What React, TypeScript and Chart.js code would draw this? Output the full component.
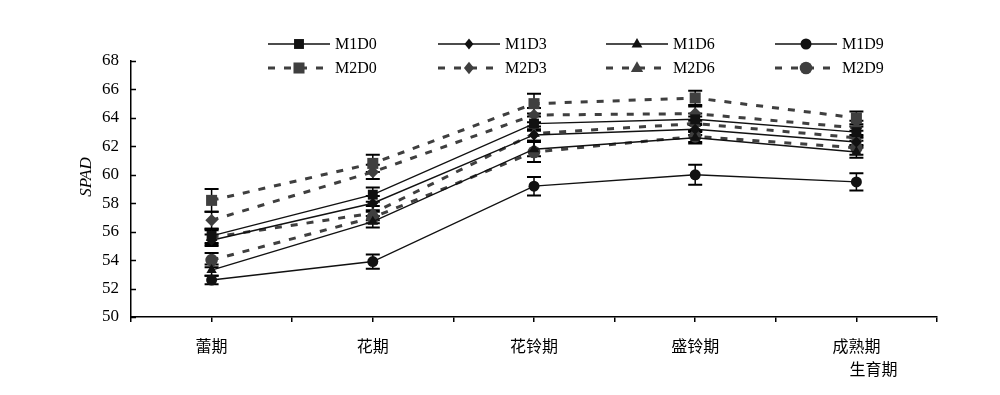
import React, { useEffect, useRef } from 'react';
import { Chart, registerables } from 'chart.js';

Chart.register(...registerables);

// ---------- data ----------
const stages = ['蕾期', '花期', '花铃期', '盛铃期', '成熟期'];
const xAxisTitle = '生育期';
const yAxisTitle = 'SPAD';
const yMin = 50;
const yMax = 68;
const yStep = 2;

const seriesNames = ['M1D0', 'M1D3', 'M1D6', 'M1D9', 'M2D0', 'M2D3', 'M2D6', 'M2D9'];

const M1D0 = [55.7, 58.6, 63.6, 63.9, 63.0];
const M1D3 = [55.4, 58.0, 62.8, 63.2, 62.3];
const M1D6 = [53.3, 56.7, 61.8, 62.6, 61.6];
const M1D9 = [52.6, 53.9, 59.2, 60.0, 59.5];
const M2D0 = [58.2, 60.8, 65.0, 65.4, 64.0];
const M2D3 = [56.8, 60.2, 64.2, 64.3, 63.3];
const M2D6 = [55.6, 57.3, 62.9, 63.6, 62.6];
const M2D9 = [54.0, 57.0, 61.6, 62.7, 61.9];

const M1D0err = [0.5, 0.5, 0.5, 0.4, 0.4];
const M1D3err = [0.4, 0.5, 0.4, 0.4, 0.4];
const M1D6err = [0.4, 0.4, 0.5, 0.4, 0.4];
const M1D9err = [0.3, 0.5, 0.65, 0.7, 0.6];
const M2D0err = [0.8, 0.6, 0.7, 0.5, 0.45];
const M2D3err = [0.6, 0.5, 0.5, 0.5, 0.5];
const M2D6err = [0.5, 0.5, 0.5, 0.5, 0.5];
const M2D9err = [0.5, 0.4, 0.7, 0.4, 0.5];

const seriesValues = [M1D0, M1D3, M1D6, M1D9, M2D0, M2D3, M2D6, M2D9];
const seriesErrors = [M1D0err, M1D3err, M1D6err, M1D9err, M2D0err, M2D3err, M2D6err, M2D9err];

// ---------- styles ----------
const SERIF = '"Liberation Serif", "DejaVu Serif", serif';
const CJK = '"Noto Sans CJK SC", sans-serif';
const markerShapes = ['rect', 'rectRot', 'triangle', 'circle'];
const markerRadius = [7, 5.5, 6, 5.5];
const solidColor = '#111111';
const dashColor = '#3f3f3f';

function styleFor(i: number) {
  const m2 = i >= 4;
  const k = i % 4;
  return {
    color: m2 ? dashColor : solidColor,
    width: m2 ? 3 : 1.4,
    dash: m2 ? [7, 9] : [],
    shape: markerShapes[k],
    radius: markerRadius[k] + (m2 ? 0.8 : 0),
  };
}

function drawMarker(ctx: CanvasRenderingContext2D, shape: string, x: number, y: number, r: number, color: string) {
  ctx.save();
  ctx.fillStyle = color;
  ctx.beginPath();
  if (shape === 'rect') {
    const s = r * Math.SQRT1_2;
    ctx.rect(x - s, y - s, 2 * s, 2 * s);
  } else if (shape === 'rectRot') {
    ctx.moveTo(x, y - r);
    ctx.lineTo(x + r * 0.8, y);
    ctx.lineTo(x, y + r);
    ctx.lineTo(x - r * 0.8, y);
    ctx.closePath();
  } else if (shape === 'triangle') {
    ctx.moveTo(x, y - r);
    ctx.lineTo(x + r * 0.9, y + r * 0.6);
    ctx.lineTo(x - r * 0.9, y + r * 0.6);
    ctx.closePath();
  } else {
    ctx.arc(x, y, r, 0, Math.PI * 2);
  }
  ctx.fill();
  ctx.restore();
}

const legendCols = [268, 438, 606, 775];
const legendRows = [44, 68];
const legendLineLen = 62;

const errorBarsPlugin = {
  id: 'errorBars',
  beforeDatasetsDraw(chart: any) {
    const ctx = chart.ctx;
    const xs = chart.scales.x;
    const ys = chart.scales.y;
    ctx.save();
    ctx.strokeStyle = '#000';
    seriesValues.forEach((vals, i) => {
      vals.forEach((v, j) => {
        const e = seriesErrors[i][j];
        const x = xs.getPixelForValue(j + 0.5);
        const yt = ys.getPixelForValue(v + e);
        const yb = ys.getPixelForValue(v - e);
        ctx.lineWidth = 1.5;
        ctx.beginPath();
        ctx.moveTo(x, yt);
        ctx.lineTo(x, yb);
        ctx.stroke();
        ctx.lineWidth = 2;
        ctx.beginPath();
        ctx.moveTo(x - 7, yt);
        ctx.lineTo(x + 7, yt);
        ctx.moveTo(x - 7, yb);
        ctx.lineTo(x + 7, yb);
        ctx.stroke();
      });
    });
    ctx.restore();
  },
};

const decorPlugin = {
  id: 'decor',
  afterDraw(chart: any) {
    const ctx = chart.ctx;
    const ys = chart.scales.y;
    const xs = chart.scales.x;
    const area = chart.chartArea;
    ctx.save();
    // inward y ticks
    ctx.strokeStyle = '#000';
    ctx.lineWidth = 1.5;
    ys.ticks.forEach((t: any) => {
      const y = Math.round(ys.getPixelForValue(t.value)) + 0.5;
      ctx.beginPath();
      ctx.moveTo(area.left, y);
      ctx.lineTo(area.left + 5, y);
      ctx.stroke();
    });
    // y title
    ctx.save();
    ctx.translate(87, (area.top + area.bottom) / 2 - 12);
    ctx.rotate(-Math.PI / 2);
    ctx.font = 'italic 17px ' + SERIF;
    ctx.fillStyle = '#000';
    ctx.textAlign = 'center';
    ctx.textBaseline = 'middle';
    ctx.fillText(yAxisTitle, 0, 0);
    ctx.restore();
    // x title
    ctx.font = '16px ' + CJK;
    ctx.fillStyle = '#000';
    ctx.textAlign = 'center';
    ctx.textBaseline = 'middle';
    ctx.fillText(xAxisTitle, xs.getPixelForValue(stages.length - 0.5) + 17, 369);
    // legend
    seriesNames.forEach((name, i) => {
      const st = styleFor(i);
      const x0 = legendCols[i % 4];
      const y = legendRows[Math.floor(i / 4)];
      ctx.save();
      ctx.strokeStyle = st.color;
      ctx.lineWidth = st.width;
      ctx.setLineDash(st.dash);
      ctx.beginPath();
      ctx.moveTo(x0, y);
      ctx.lineTo(x0 + legendLineLen, y);
      ctx.stroke();
      ctx.restore();
      drawMarker(ctx, st.shape, x0 + legendLineLen / 2, y, st.radius, st.color);
      ctx.font = '16px ' + SERIF;
      ctx.fillStyle = '#000';
      ctx.textAlign = 'left';
      ctx.textBaseline = 'middle';
      ctx.fillText(name, x0 + legendLineLen + 5, y + 1);
    });
    ctx.restore();
  },
};

export default function App() {
  const ref = useRef<HTMLCanvasElement | null>(null);
  useEffect(() => {
    if (!ref.current) return;
    const datasets = seriesNames.map((name, i) => {
      const st = styleFor(i);
      return {
        label: name,
        data: seriesValues[i].map((v, j) => ({ x: j + 0.5, y: v })),
        borderColor: st.color,
        backgroundColor: st.color,
        borderWidth: st.width,
        borderDash: st.dash,
        pointStyle: st.shape,
        pointRadius: st.radius,
        pointBorderWidth: 0,
        pointBackgroundColor: st.color,
        tension: 0,
        fill: false,
      };
    });
    const chart = new Chart(ref.current, {
      type: 'line',
      data: { datasets } as any,
      options: {
        animation: false,
        responsive: false,
        devicePixelRatio: 1,
        layout: { padding: { top: 61, right: 63, left: 0, bottom: 0 } },
        plugins: { legend: { display: false }, tooltip: { enabled: false } },
        scales: {
          x: {
            type: 'linear',
            min: 0,
            max: stages.length,
            afterFit: (s: any) => { s.height = 78; },
            afterBuildTicks: (s: any) => {
              const t = [];
              for (let i = 0; i <= stages.length * 2; i++) t.push({ value: i / 2 });
              s.ticks = t;
            },
            ticks: {
              autoSkip: false,
              maxRotation: 0,
              padding: 14,
              color: '#000',
              font: { family: CJK, size: 16 },
              callback: (v: any) => {
                const k = Number(v) - 0.5;
                return Number.isInteger(k) && stages[k] !== undefined ? stages[k] : '';
              },
            },
            grid: { display: true, drawOnChartArea: false, drawTicks: true, tickLength: 5, color: '#000', lineWidth: 1.5 },
            border: { display: true, color: '#000', width: 1.5 },
          },
          y: {
            min: yMin,
            max: yMax,
            afterFit: (s: any) => { s.width = 131; },
            ticks: {
              stepSize: yStep,
              padding: 12,
              color: '#000',
              font: { family: SERIF, size: 17 },
            },
            grid: { display: false, drawTicks: false },
            border: { display: true, color: '#000', width: 1.5 },
          },
        },
      },
      plugins: [errorBarsPlugin, decorPlugin],
    } as any);
    return () => chart.destroy();
  }, []);
  return (
    <div style={{ position: 'absolute', left: 0, top: 0, width: 1000, height: 395, background: '#fff' }}>
      <canvas ref={ref} width={1000} height={395} style={{ width: 1000, height: 395 }} />
    </div>
  );
}
